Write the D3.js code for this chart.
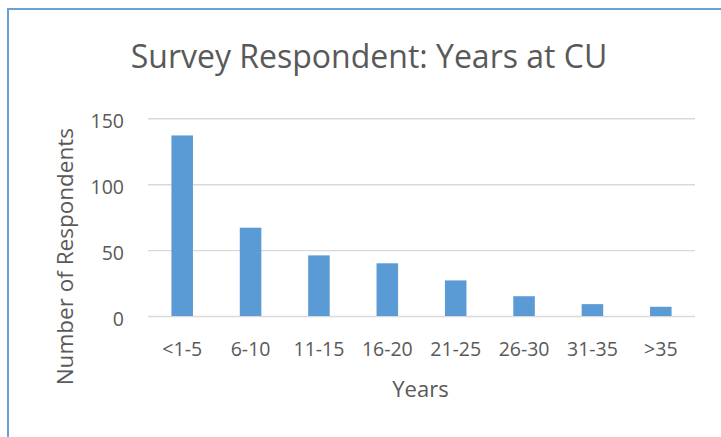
<!DOCTYPE html>
<html>
<head>
<meta charset="utf-8">
<script src="https://cdn.jsdelivr.net/npm/d3@7"></script>
<style>
  html, body { margin: 0; padding: 0; background: #fff; }
  svg { display: block; }
  text { font-family: "Open Sans", "Liberation Sans", sans-serif; fill: #595959; }
</style>
</head>
<body>
<svg id="chart" width="721" height="437"></svg>
<script>
// Survey respondents grouped by years at CU
const categories = ["<1-5", "6-10", "11-15", "16-20", "21-25", "26-30", "31-35", ">35"];
const respondents = [137, 67, 46, 40, 27, 15, 9, 7];
const yTicks = [0, 50, 100, 150];

const chartTitle = "Survey Respondent: Years at CU";
const xTitle = "Years";
const yTitle = "Number of Respondents";

const svg = d3.select("#chart");
const W = 721, H = 437;

svg.append("rect").attr("width", W).attr("height", H).attr("fill", "#fff");

// chart frame (extends past the right and bottom edges)
svg.append("rect")
  .attr("x", 8).attr("y", 9)
  .attr("width", 800).attr("height", 600)
  .attr("fill", "none")
  .attr("stroke", "#6a9fd8")
  .attr("stroke-width", 2);

const plot = { left: 148, right: 695, top: 118.3, bottom: 316 };

const x = d3.scaleBand()
  .domain(categories)
  .range([plot.left, plot.right])
  .paddingInner(0.685)
  .paddingOuter(0.3425);

const y = d3.scaleLinear()
  .domain([0, 150])
  .range([plot.bottom, plot.top]);

// gridlines + y tick labels
const yAxis = svg.append("g")
  .attr("transform", `translate(${plot.left},0)`)
  .call(d3.axisLeft(y).tickValues(yTicks).tickSize(-(plot.right - plot.left)).tickPadding(24));
yAxis.select(".domain").remove();
yAxis.selectAll(".tick line").attr("stroke", "#d9d9d9").attr("stroke-width", 1.4);
yAxis.selectAll(".tick text")
  .attr("font-size", 19.5)
  .attr("dy", 9)
  .attr("fill", "#595959")
  .style("font-family", "'Open Sans', sans-serif");

// bars
svg.append("g").selectAll("rect")
  .data(respondents)
  .join("rect")
  .attr("x", (d, i) => x(categories[i]))
  .attr("y", d => y(d))
  .attr("width", x.bandwidth())
  .attr("height", d => y(0) - y(d))
  .attr("fill", "#5b9bd5");

// x tick labels
const xAxis = svg.append("g")
  .attr("transform", `translate(0,${plot.bottom})`)
  .call(d3.axisBottom(x).tickSize(0).tickPadding(0));
xAxis.select(".domain").remove();
xAxis.selectAll(".tick text")
  .attr("font-size", 19.5)
  .attr("y", 40)
  .attr("dy", 0)
  .attr("fill", "#595959")
  .style("font-family", "'Open Sans', sans-serif");

// titles
svg.append("text")
  .attr("x", 369).attr("y", 68)
  .attr("text-anchor", "middle")
  .attr("font-size", 32)
  .text(chartTitle);

svg.append("text")
  .attr("x", 420.5).attr("y", 396.5)
  .attr("text-anchor", "middle")
  .attr("font-size", 22)
  .text(xTitle);

svg.append("text")
  .attr("transform", "translate(73.3,256.7) rotate(-90)")
  .attr("text-anchor", "middle")
  .attr("font-size", 22.5)
  .text(yTitle);
</script>
</body>
</html>
